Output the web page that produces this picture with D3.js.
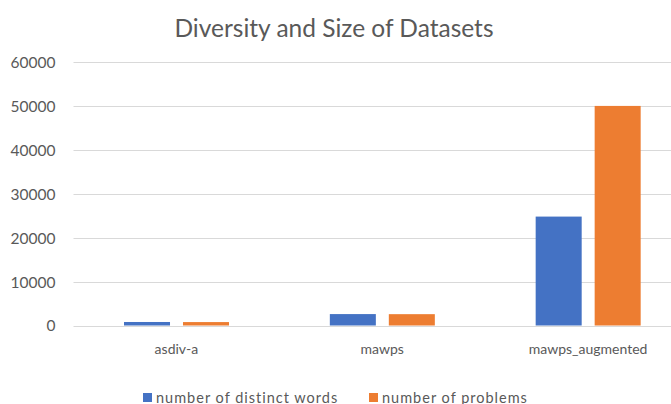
<!DOCTYPE html>
<html>
<head>
<meta charset="utf-8">
<script src="https://cdn.jsdelivr.net/npm/d3@7"></script>
<style>
  html, body { margin: 0; padding: 0; background: #fff; }
  svg { display: block; }
  text { font-family: Lato, "Open Sans", sans-serif; fill: #595959; }
</style>
</head>
<body>
<svg id="chart" width="671" height="404"></svg>
<script>
// Dataset names along the x axis
const categories = ["asdiv-a", "mawps", "mawps_augmented"];
// Series
const seriesNames = ["number of distinct words", "number of problems"];
const distinctWords = [800, 2600, 24800];
const problems = [780, 2580, 50000];
const yTicks = [0, 10000, 20000, 30000, 40000, 50000, 60000];
const colors = ["#4472C4", "#ED7D31"];

const svg = d3.select("#chart");
const plot = { left: 73.5, right: 691, top: 62, bottom: 325.5 };

const x = d3.scaleBand().domain(categories).range([plot.left, plot.right]);
// Pair of bars sits centred in each category slot
const x1 = d3.scaleBand().domain(seriesNames).range([50.5, 155.5]).paddingInner(0.22).paddingOuter(0);
const y = d3.scaleLinear().domain([0, 60000]).range([plot.bottom, plot.top]);

// Title
svg.append("text")
  .attr("x", 334).attr("y", 37)
  .attr("text-anchor", "middle")
  .style("font-size", "24.5px")
  .text("Diversity and Size of Datasets");

// Horizontal gridlines
svg.append("g").selectAll("line").data(yTicks).join("line")
  .attr("x1", plot.left).attr("x2", plot.right)
  .attr("y1", d => Math.round(y(d)) + 0.5).attr("y2", d => Math.round(y(d)) + 0.5)
  .attr("stroke", "#d9d9d9").attr("stroke-width", 1.2);

// Y axis labels
const yAxis = d3.axisLeft(y).tickValues(yTicks).tickSize(0).tickPadding(0).tickFormat(d3.format("d"));
svg.append("g").attr("transform", `translate(${plot.left - 18},0)`).call(yAxis)
  .call(g => g.select(".domain").remove())
  .call(g => g.selectAll("text").style("font-size", "15.5px").attr("dy", "0.35em")
    .style("font-family", "Lato, 'Open Sans', sans-serif").attr("fill", "#595959"));

// Bars
const rows = categories.map((c, i) => ({ cat: c, vals: [distinctWords[i], problems[i]] }));
const groups = svg.append("g").selectAll("g").data(rows).join("g")
  .attr("transform", d => `translate(${x(d.cat)},0)`);
groups.selectAll("rect").data(d => d.vals.map((v, j) => ({ key: seriesNames[j], v, j }))).join("rect")
  .attr("x", d => x1(d.key))
  .attr("width", x1.bandwidth())
  .attr("y", d => y(d.v))
  .attr("height", d => y(0) - y(d.v))
  .attr("fill", d => colors[d.j]);

// X axis labels
const xAxis = d3.axisBottom(x).tickSize(0).tickPadding(0);
svg.append("g").attr("transform", `translate(0,${plot.bottom + 19})`).call(xAxis)
  .call(g => g.select(".domain").remove())
  .call(g => g.selectAll("text").style("font-size", "14px").attr("dy", "0.71em")
    .style("font-family", "Lato, 'Open Sans', sans-serif").attr("fill", "#595959"));

// Legend
const legendX = [143, 369];
const legend = svg.append("g").selectAll("g").data(seriesNames).join("g")
  .attr("transform", (d, i) => `translate(${legendX[i]},393)`);
legend.append("rect").attr("width", 9).attr("height", 9).attr("fill", (d, i) => colors[i]);
legend.append("text").attr("x", 13).attr("y", 9.5)
  .style("font-size", "14.5px").style("letter-spacing", "1px").text(d => d);
</script>
</body>
</html>
